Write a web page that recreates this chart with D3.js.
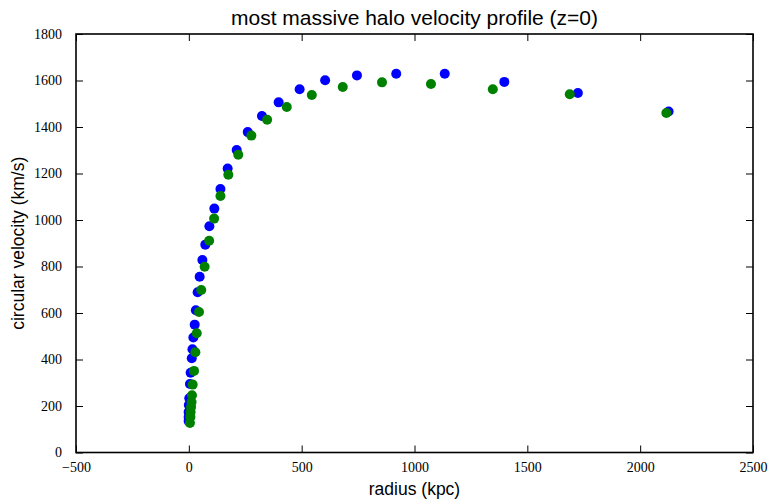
<!DOCTYPE html>
<html>
<head>
<meta charset="utf-8">
<script src="https://cdn.jsdelivr.net/npm/d3@7"></script>
<style>
  body { margin: 0; background: #fff; }
  .tick text { font-family: "Liberation Serif", "DejaVu Serif", serif; font-size: 14px; fill: #000; }
  .axisText { font-family: "Liberation Sans", Arial, sans-serif; font-size: 17.5px; fill: #000; }
</style>
</head>
<body>
<div id="chart"></div>
<script>
// radius (kpc) and circular velocity (km/s)
var blueRadius = [2126, 1724, 1398, 1134, 919, 745, 604, 491, 398, 324, 261, 212, 172, 140, 113, 91, 73, 60, 48, 39, 31, 26, 20, 16, 13, 8, 5, 2, 0, -1, -1, -1];
var blueVel = [1467, 1546, 1594, 1629, 1629, 1622, 1601, 1562, 1506, 1447, 1378, 1301, 1221, 1133, 1049, 973, 894, 828, 756, 689, 612, 550, 495, 444, 405, 343, 295, 233, 204, 174, 153, 135];

var greenRadius = [2116, 1688, 1347, 1073, 856, 682, 545, 434, 347, 277, 219, 175, 140, 112, 90, 70, 55, 45, 35, 29, 23, 17, 14, 12, 10, 8, 7, 5];
var greenVel = [1460, 1541, 1562, 1585, 1592, 1572, 1538, 1486, 1431, 1363, 1281, 1195, 1103, 1006, 911, 799, 699, 604, 513, 431, 351, 292, 246, 217, 196, 174, 153, 127];

var xTicks = [-500, 0, 500, 1000, 1500, 2000, 2500];
var yTicks = [0, 200, 400, 600, 800, 1000, 1200, 1400, 1600, 1800];

var svgWidth = 770;
var svgHeight = 501;
var margin = { top: 34, right: 17, bottom: 48.5, left: 76 };
var width = svgWidth - margin.left - margin.right;
var height = svgHeight - margin.top - margin.bottom;

var svg = d3.select("#chart")
  .append("svg")
  .attr("width", svgWidth)
  .attr("height", svgHeight);

var chartGroup = svg.append("g")
  .attr("transform", `translate(${margin.left}, ${margin.top})`);

var xScale = d3.scaleLinear().domain([-500, 2500]).range([0, width]);
var yScale = d3.scaleLinear().domain([0, 1800]).range([height, 0]);

var fmt = function(d) { return d < 0 ? "\u2212" + Math.abs(d) : String(d); };

// ticks point inward on all four sides
var bottomAxis = d3.axisBottom(xScale).tickValues(xTicks).tickFormat(fmt).tickSizeInner(-7).tickSizeOuter(0).tickPadding(10);
var topAxis = d3.axisTop(xScale).tickValues(xTicks).tickFormat("").tickSizeInner(-7).tickSizeOuter(0);
var leftAxis = d3.axisLeft(yScale).tickValues(yTicks).tickFormat(fmt).tickSizeInner(-7).tickSizeOuter(0).tickPadding(14);
var rightAxis = d3.axisRight(yScale).tickValues(yTicks).tickFormat("").tickSizeInner(-7).tickSizeOuter(0);

chartGroup.append("g").attr("transform", `translate(0, ${height})`).call(bottomAxis);
chartGroup.append("g").call(topAxis);
chartGroup.append("g").call(leftAxis);
chartGroup.append("g").attr("transform", `translate(${width}, 0)`).call(rightAxis);

chartGroup.selectAll(".domain").remove();
chartGroup.selectAll(".tick line").attr("stroke", "#000").attr("stroke-width", 1);

// points
var blue = blueRadius.map(function(r, i) { return { r: r, v: blueVel[i] }; });
var green = greenRadius.map(function(r, i) { return { r: r, v: greenVel[i] }; });

chartGroup.selectAll(".blueDot")
  .data(blue)
  .enter()
  .append("circle")
  .attr("class", "blueDot")
  .attr("cx", d => xScale(d.r))
  .attr("cy", d => yScale(d.v))
  .attr("r", 5)
  .attr("fill", "#0000ff");

chartGroup.selectAll(".greenDot")
  .data(green)
  .enter()
  .append("circle")
  .attr("class", "greenDot")
  .attr("cx", d => xScale(d.r))
  .attr("cy", d => yScale(d.v))
  .attr("r", 5)
  .attr("fill", "#008000");

// frame
chartGroup.append("rect")
  .attr("width", width)
  .attr("height", height)
  .attr("fill", "none")
  .attr("stroke", "#000")
  .attr("stroke-width", 1.6);

// labels
svg.append("text")
  .attr("class", "axisText")
  .attr("x", margin.left + width / 2)
  .attr("y", 25)
  .attr("text-anchor", "middle")
  .style("font-size", "21px")
  .text("most massive halo velocity profile (z=0)");

svg.append("text")
  .attr("class", "axisText")
  .attr("x", margin.left + width / 2)
  .attr("y", 495)
  .attr("text-anchor", "middle")
  .text("radius (kpc)");

svg.append("text")
  .attr("class", "axisText")
  .attr("transform", `translate(24, ${margin.top + height / 2}) rotate(-90)`)
  .attr("text-anchor", "middle")
  .text("circular velocity (km/s)");
</script>
</body>
</html>
